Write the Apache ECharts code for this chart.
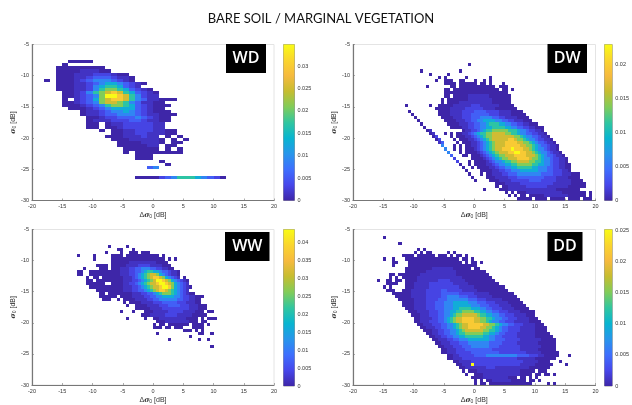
<!DOCTYPE html>
<html><head><meta charset="utf-8">
<script src="https://cdn.jsdelivr.net/npm/echarts@6/dist/echarts.min.js"></script>
<style>html,body{margin:0;padding:0;background:#fff}#c{width:632px;height:405px;filter:blur(.35px)}</style>
</head><body><div id="c"></div>
<script>
// Each row: [row index from y=-5 downward (0.5 dB per row), x of first cell, cell levels]
// Levels: '.' empty, 0-9,a = steps of the colourbar, see levelShare.
const levelShare=[0,.04,.09,.16,.26,.37,.49,.6,.72,.86,1];
const wdRows=[[5,-14,"0000"],[6,-15,"0"],[7,-16,"00000000"],[8,-16,"000011100"],[9,-16,"000111222100"],
[10,-16,"0001123332110"],[11,-18,"0.0001234443210"],[12,-16,"000112345543210"],[13,-16,"00011245665321"],
[14,-16,"0001124677653210"],[15,-15,"0012467898653210"],[16,-15,"0012347aa9864211"],[17,-15,"0.12357899864311000"],
[18,-15,"00123478876431100"],[19,-15,"000123467765321000"],[20,-14,"0001234555532100"],[21,-12,"011234454321000"],
[22,-12,"0112334443211000"],[23,-11,"00122333432100"],[24,-11,"01112223321100"],[25,-11,"00.0112222211"],
[26,-11,"00.0012222211"],[27,-9,"0.00112221100"],[28,-7,"00112211100"],[29,-8,"000111211.0.0"],
[30,-7,"000111110.0.0"],[31,-6,"00001110.00"],[32,-6,"0000011.00"],[33,-5,"000000.0.0"],
[34,-5,"0.00000000"],[35,-3,"000"],[36,-3,"000"],[37,1,"0"],[38,2,"0"],[39,-1,"34"],[42,-3,"000023466654320"]];
const dwRows=[[6,-1,"0"],[8,-9,"0............0"],[9,-7.5,"0.....0"],[10,-6,"0.0......0.......0"],[11,-6.5,"0..000..00...0..0.0"],
[12,-5,"0000.000000.00.0...0"],[13,-8,"0.......00.000000000000.000"],[14,-5,"00.000000000000000.00.0"],[15,-5,"000000000000000000000"],
[16,-5,"00.0000011111110000000"],[17,-5.5,"0.000000011111111000000"],[18,-5.5,"0.000011111111111000000."],
[19,-11.5,"0.......0..0000011111122211111100000"],[20,-6.5,"000001111122222211110000000"],
[21,-11,"0.........0000111122223333222211110000"],[22,-10.5,"0........00001111222333333222111100000"],
[23,-10,"0........00001112223334444332211110000"],[24,-9.5,"0........00001112233445555443322111000"],
[25,-9,"0........000011122334456665544332211000"],[26,-8.5,"0........0000112233445566665544332211000"],
[27,-8,"01..........011223456677777666544322110"],
[28,-7.5,"01...0.0.001123456677888877665443322110"],[29,-7,"02....0.0001123456778888888776544332110"],
[30,-6.5,"02....0.0001123456788888998776544322110"],[31,-6,"13....0.0001123456788899998877654332110"],
[32,-5.5,"4...0.0.0011234567888999998877654332110"],[33,-5,"4..0.0.000123456788999a999887654432110"],
[34,-4.5,"4...0.0000123456788899aa99887654432110"],[35,-4,"3...00.0001234567788899998887654332110"],
[36,-3.5,"2.....00001234567788899998776544322110"],[37,-3,"2...0.0000123445667788887766544322110"],
[38,-2.5,"0..0.00001123445566777776655443221100"],[39,-2,"0..0.0000112334455666665544433221100"],
[40,-1.5,"0....000011223344455555544433222110"],[41,-1,"0...0.0011122333444444443333222111000"],
[42,-.5,"0....0001111222333333333222211110000"],[43,0,"0....0001111222222333322222111110000"],
[44,3.5,"000111112222222222211111100000"],[45,3.5,"0.0011111122222221111111000000"],
[46,1.5,"0....000111111111111111100000000"],[47,5,"0.0.00011111111111100000000.0"],
[48,5.5,"0.0.00.0000011111111000000.0"],[49,7,"00000.0000.00000.0000.000"]];
const wwRows=[[5,-7.5,"0.....0"],[6,-6,"00...0"],[7,-8,"0....0..000.000"],[8,-12.5,"0....0.....0000.00000000000.0"],
[9,-10,"0.....000000000000000000.0.0"],[10,-7,"0000001111111110000"],[11,-9.5,"0000.00000111122221111000"],
[12,-11.5,"0....000.000111223344433221100"],[13,-12.5,"00..000000000011122334566554332110"],
[14,-12.5,"00..000000000011122345678875432110"],[15,-11,"0.00.00000001112345678998754321 0"],
[16,-11,"00.00000000011122345678aa987543210"],[17,-11,"000000..0000112234567889aa98754321"],
[18,-10.5,"000000000001112234567889aa97543210"],[19,-9.5,"0000000001112233456789987654321"],
[20,-9,"00.00000000111223345677765432100"],[21,-9,"000000.0000111122334455554432211000"],
[22,-8.5,"000..0.00001111223344444433221100"],[23,-5,"0.000011112223333322211100"],
[24,-4.5,"0..000011112223333222111000"],[25,-3,"000001111222222222111000"],
[26,-5.5,"0...0...00011111222221111000.00"],[27,-2,"0001111122221111100000"],
[28,-4.5,"0.....0..001111111110000.0.000"],[29,.5,"00011111111000.00"],[30,0,"0.00.0000000.0000.0"],
[31,0,"000.00.000...0000."],[32,5,"000.0.0"],[33,.5,"0.............00..0"],[34,6,"0"],[35,2.5,"0.........0..0"],[37,9.5,"0"]];
const ddRows=[[2,-15,"0"],[4,-12.5,"0"],[6,-9.5,"0.0"],[7,-10,"0.0.00.....0.0"],[8,-12,"0000.000000.000.0.00.0"],
[9,-15,"0..0...000000000000000000.00.0"],[10,-13.5,"00...000000000000000000.0.00.0"],[11,-13.5,"0....00000000000000000000000"],
[12,-11.5,"0000000001111111000000.00"],[13,-11.5,"000000011111111110000000000"],
[14,-14,"00.00"+"0000011111111111100000000000"],[15,-14,"0.0.0"+"00001111111111111110000000000"],
[16,-16,"0..00.00."+"000011111112222111110000000000"],[17,-14.5,"0000.."+"0001111122222222111110000000000"],
[18,-15,"0.0...."+"000111112222222222111110000000000"],[19,-14.5,"000.."+"00011111222223322222111110000000000"],
[20,-13.5,"0000001111122222333333222221111100000000"],[21,-13,"0000011111222223344443332221111100000000"],
[22,-12.5,"0000011112222333444444433322211111000000"],[23,-12,"0000111122233344455555444333222111100000"],
[24,-12,"00001111222333444555555444333222111100000"],[25,-11.5,"00011112223334445566665554433222111100000"],
[26,-11,"000111122233445566777766554433222111100000"],[27,-10.5,"00011122233445677888887665544332221111000"],
[28,-10,"00111122334567889999887766544332221111000"],[29,-10,"001112223345678899998877654433222111110000"],
[30,-9.5,"001112223344567889999988776544332221111000"],[31,-9,"001112233445678899998877654332222111110000"],
[32,-8.5,"00011223344567888888776654332222111110000"],[33,-8,"00112233445667777776655433222211111100000"],
[34,-7.5,"00112233445566666655443322222111111000000"],[35,-7,"00111223344455555554433322222111111100000"],
[36,-6.5,"0011122233344444443333222221111111000000"],[37,-6,"001112223334444443332222222111111100000"],
[38,-5.5,"00111222333333333222222222111111000000"],[39,-5.5,"001112222233333333322222222211111000000"],
[40,-4.5,"0011222223333444444444433332221100000...0"],[41,-4.5,"001112222222222222222221111110000000"],
[42,-3.5,"00111122222222222222222111110000...0"],[43,-3,"00111a22222222222222211111000000....0"],
[44,-2.5,"001111111222111111111110000000"],[45,-2,"0.0001111111111111100000.000"],
[46,-1.5,"0..0001111111111110000.00.00.0"],[47,-.5,"000011111111000.00.0.0"],[48,0,"0.0.0011111100000.00.0"],[49,0,"0.00.00000000000000.....0.0"]];

const xTicks={min:-20,max:20,step:5};
const yTicks={min:-30,max:-5,step:5};
const titleText="BARE SOIL / MARGINAL VEGETATION";
const parula=['#3e26a8','#4747eb','#3e6ffe','#2796eb','#08b5d0','#31c69f','#81cc59','#c6bd30','#f6ba3e','#fad52e','#f9fb15'];

const panels=[
 {name:'WD',rows:wdRows,cw:1,max:.0348,left:32,right:274,top:44.5,bottom:200.5,cbL:283.5,cbR:294.5,box:[226,44,40,29]},
 {name:'DW',rows:dwRows,cw:.5,max:.0229,left:353,right:595.5,top:44.5,bottom:200.5,cbL:604.5,cbR:615.5,box:[547.5,44,39.5,29]},
 {name:'WW',rows:wwRows,cw:.5,max:.0437,left:32,right:274,top:229.5,bottom:386,cbL:283.5,cbR:294.5,box:[225,232,44.5,29]},
 {name:'DD',rows:ddRows,cw:.5,max:.0252,left:353,right:595.5,top:229.5,bottom:386,cbL:604.5,cbR:615.5,box:[547.5,232,35,29]}
];
const W=632,H=405;
const lab={color:'#333',fontSize:5.5,fontFamily:'Liberation Sans'};
const nameRich={a:{fontSize:7,color:'#333',fontFamily:'Liberation Sans'},
 g:{fontSize:7,color:'#333',fontFamily:'DejaVu Serif',fontStyle:'italic',fontWeight:'bold'},
 s:{fontSize:5,color:'#333',fontFamily:'Liberation Sans',verticalAlign:'bottom',padding:[3,0,0,0]}};
const opt={animation:false,backgroundColor:'#fff',
 title:{text:titleText,left:316,top:7,textAlign:'center',textStyle:{fontFamily:'Lato',fontWeight:'normal',fontSize:13,color:'#111'}},
 grid:[],xAxis:[],yAxis:[],series:[],visualMap:[],graphic:[]};
panels.forEach((p,i)=>{
 const gi=i*2;
 opt.grid.push({left:p.left,right:W-p.right,top:p.top,bottom:H-p.bottom,show:true,borderColor:'#e4e4e4',borderWidth:1,backgroundColor:'#fff'});
 opt.grid.push({left:p.cbL,right:W-p.cbR,top:p.top,bottom:H-p.bottom,show:true,borderColor:'#999',borderWidth:1});
 const axisLine={show:true,onZero:false,lineStyle:{color:'#777',width:1.2}};
 opt.xAxis.push({gridIndex:gi,type:'value',min:xTicks.min,max:xTicks.max,interval:xTicks.step,splitLine:{show:false},
  axisLine,axisTick:{inside:true,length:2,lineStyle:{color:'#777',width:.6}},axisLabel:{...lab,margin:3},
  name:'{a|Δ}{g|σ}{s|0}{a| [dB]}',nameLocation:'middle',nameGap:11,nameTextStyle:{rich:nameRich}});
 opt.yAxis.push({gridIndex:gi,type:'value',min:yTicks.min,max:yTicks.max,interval:yTicks.step,splitLine:{show:false},
  axisLine,axisTick:{inside:true,length:2,lineStyle:{color:'#777',width:.6}},axisLabel:{...lab,margin:3},
  name:'{g|σ}{s|0}{a| [dB]}',nameLocation:'middle',nameGap:15,nameRotate:90,nameTextStyle:{rich:nameRich}});
 // colourbar
 opt.xAxis.push({gridIndex:gi+1,type:'category',data:[''],show:false});
 opt.yAxis.push({gridIndex:gi+1,type:'value',position:'right',min:0,max:p.max,interval:.005,splitLine:{show:false},
  axisLine:{show:false},axisTick:{inside:true,length:2,lineStyle:{color:'#555',width:.5}},
  axisLabel:{...lab,margin:3,showMaxLabel:false,formatter:v=>v===0?'0':String(+v.toFixed(3))}});
 const data=[];
 p.rows.forEach(([k,x0,s])=>{[...s].forEach((c,j)=>{if(c==='.'||c===' ')return;
   data.push([x0+j*p.cw,-5-k*.5,levelShare[parseInt(c,16)]*p.max]);});});
 opt.series.push({type:'custom',name:p.name,xAxisIndex:gi,yAxisIndex:gi,data,encode:{x:0,y:1},clip:true,
  renderItem:(params,api)=>{
   const a=api.coord([api.value(0),api.value(1)]),b=api.coord([api.value(0)+p.cw,api.value(1)-.5]);
   const x0=Math.round(a[0]),y0=Math.round(a[1]),x1=Math.round(b[0]),y1=Math.round(b[1]);
   return {type:'rect',shape:{x:x0,y:y0,width:x1-x0,height:y1-y0},style:{fill:api.visual('color')}};
  }});
 opt.visualMap.push({show:false,seriesIndex:i*2,dimension:2,min:0,max:p.max,inRange:{color:parula}});
 opt.series.push({type:'bar',xAxisIndex:gi+1,yAxisIndex:gi+1,data:[p.max],barWidth:'100%',silent:true,
  itemStyle:{color:new echarts.graphic.LinearGradient(0,1,0,0,parula.map((c,j)=>({offset:j/10,color:c})))}});
 const [bx,by,bw,bh]=p.box;
 opt.graphic.push({type:'rect',shape:{x:bx,y:by,width:bw,height:bh},style:{fill:'#000'},z:20});
 opt.graphic.push({type:'text',x:bx+bw/2,y:by+bh/2,style:{text:p.name,fill:'#fff',font:'600 16px "Open Sans"',textAlign:'center',textVerticalAlign:'middle'},z:21});
});
echarts.init(document.getElementById('c'),null,{renderer:'canvas'}).setOption(opt);
</script></body></html>
